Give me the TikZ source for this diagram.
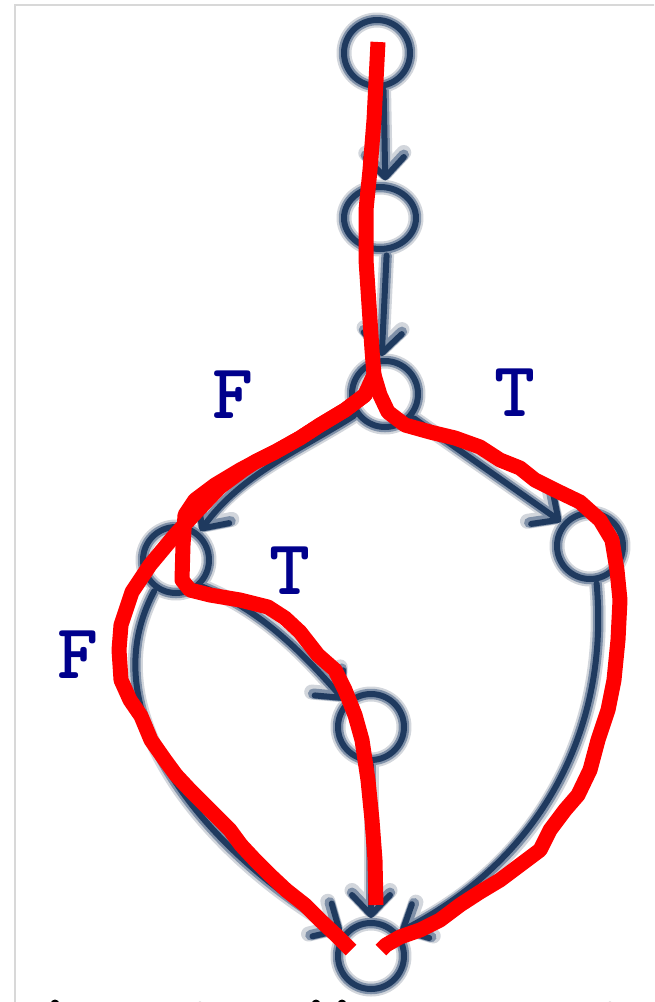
\documentclass[tikz,border=0pt]{standalone}
\usetikzlibrary{arrows.meta}
\definecolor{haloc}{HTML}{D2D6DC}
\definecolor{midc}{HTML}{7F90A8}
\definecolor{corec}{HTML}{1F3A5F}
\definecolor{labc}{RGB}{0,0,140}
\definecolor{penred}{RGB}{255,0,0}
\definecolor{framec}{HTML}{D8D8D8}
\tikzset{
  vtx/.style={circle, minimum size=66pt, inner sep=0pt, outer sep=5pt},
  tipped/.style={-{Straight Barb[length=20pt 0, width=38pt 0, round]}},
  halo/.style={draw=haloc, line width=15pt, line cap=round, line join=round},
  mid/.style={draw=midc, line width=10.5pt, line cap=round, line join=round},
  core/.style={draw=corec, line width=6pt, line cap=round, line join=round},
  pen/.style={draw=penred, line width=15pt, line cap=butt, line join=round},
  lab/.style={text=labc, font=\fontsize{78}{78}\selectfont\ttfamily\bfseries, inner sep=0pt},
}
\newcommand{\graphlayer}[1]{%
  \foreach \n in {n1,n3,n4,n5,n6,n7} {\draw[#1] (\n.center) circle (33pt);}
  \draw[#1] (n2.center) ellipse (36pt and 31pt);
  \draw[#1,tipped] (n1.-80) -- (n2.82);
  \draw[#1,tipped] (n2.-80) -- (n3.95);
  \draw[#1,tipped] (n3.215) .. controls (300,450) and (240,475) .. (n4.50);
  \draw[#1,tipped] (n3.-40) -- (n5.140);
  \draw[#1,tipped] (n4.-45) .. controls (260,610) and (300,650) .. (n6.135);
  \draw[#1,tipped] (n4.235) .. controls (85,720) and (220,860) .. (n7.140);
  \draw[#1,tipped] (n6.-90) -- (n7.90);
  \draw[#1,tipped] (n5.-80) .. controls (610,730) and (540,860) .. (n7.40);
}
\begin{document}
\begin{tikzpicture}[x=1pt,y=-1pt]
\useasboundingbox (0,0) rectangle (654,1002);
\clip (0,0) rectangle (654,1002);
\fill[white] (0,0) rectangle (654,1002);
\draw[framec, line width=2pt] (15,1010) -- (15,5) -- (660,5);

\node[vtx] (n1) at (377,53) {};
\node[vtx] (n2) at (380,218) {};
\node[vtx] (n3) at (385,394) {};
\node[vtx] (n4) at (176,560) {};
\node[vtx] (n5) at (590,546) {};
\node[vtx] (n6) at (371,727) {};
\node[vtx] (n7) at (371,956) {};

\graphlayer{halo}
\graphlayer{mid}
\graphlayer{core}

% red hand-drawn paths
\draw[pen] (378,42) -- (374,120) -- (370,170) -- (366,210) -- (366,260) -- (370,320)
  -- (372,350) -- (374,375) -- (365,395) -- (345,410) -- (320,425) -- (300,438)
  -- (275,452) -- (255,462) -- (240,470) -- (215,485) -- (195,500) -- (185,515)
  -- (183,545) -- (182,580) -- (190,590) -- (210,595) -- (240,600) -- (268,607)
  -- (285,618) -- (300,632) -- (318,655) -- (335,670) -- (345,690) -- (355,715)
  -- (362,740) -- (368,780) -- (372,820) -- (375,860) -- (376,905);
\draw[pen] (374,375) -- (365,395) -- (345,410) -- (320,425) -- (300,438) -- (275,452)
  -- (255,462) -- (243,470) -- (220,487) -- (200,508) -- (175,535) -- (150,565)
  -- (132,592) -- (121,625) -- (119,650) -- (121,680) -- (130,700) -- (141,716)
  -- (151,740) -- (165,760) -- (176,775) -- (190,790) -- (205,805) -- (216,816)
  -- (230,830) -- (241,845) -- (255,860) -- (270,875) -- (286,890) -- (305,905)
  -- (320,920) -- (336,935) -- (351,950);
\draw[pen] (374,375) -- (380,395) -- (388,412) -- (405,425) -- (430,432) -- (455,438)
  -- (480,447) -- (500,460) -- (520,468) -- (535,480) -- (555,490) -- (580,502)
  -- (600,520) -- (612,540) -- (617,570) -- (620,600) -- (618,640) -- (614,680)
  -- (608,710) -- (598,740) -- (590,770) -- (578,795) -- (565,810) -- (550,830)
  -- (540,850) -- (520,865) -- (500,880) -- (480,892) -- (460,905) -- (440,920)
  -- (420,930) -- (400,937) -- (386,945) -- (381,950);

\node[lab] (lf1) at (233,395) {F};
\node[lab] (lt1) at (515,393) {T};
\node[lab] (lt2) at (290,571) {T};
\node[lab] (lf2) at (78,655) {F};

% fragments of cut-off text at the bottom edge
\fill[black] (55,1004) circle (4.5pt);
\fill[black] (316,1004) circle (4.5pt);
\fill[black] (342,1004) circle (4.5pt);
\fill[gray!60] (200,1005) circle (3.5pt);
\fill[gray!60] (610,1005) circle (3.5pt);
\end{tikzpicture}
\end{document}
